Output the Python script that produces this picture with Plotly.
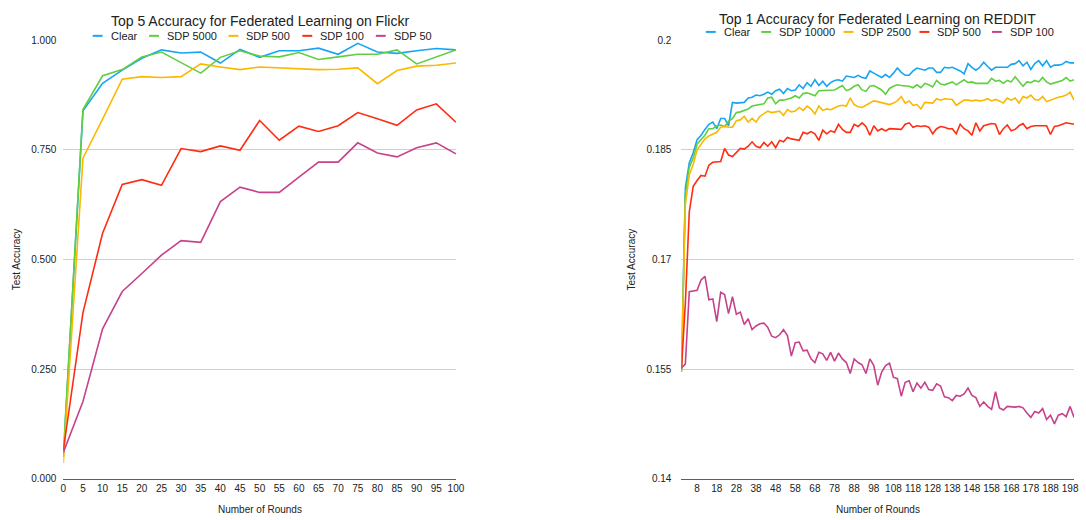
import plotly.graph_objects as go

# ---------------- Flickr (Top 5 accuracy) ----------------
flickr_rounds = [0, 5, 10, 15, 20, 25, 30, 35, 40, 45, 50, 55, 60, 65, 70, 75, 80, 85, 90, 95, 100]
flickr_clear = [0.050, 0.839, 0.902, 0.932, 0.959, 0.978, 0.971, 0.973, 0.948, 0.979, 0.961,
                0.976, 0.976, 0.982, 0.968, 0.993, 0.973, 0.970, 0.976, 0.981, 0.978]
flickr_sdp5000 = [0.055, 0.842, 0.919, 0.933, 0.962, 0.973, 0.949, 0.925, 0.961, 0.976, 0.964,
                  0.962, 0.972, 0.956, 0.962, 0.968, 0.968, 0.978, 0.946, 0.962, 0.978]
flickr_sdp500 = [0.036, 0.731, 0.820, 0.911, 0.917, 0.915, 0.917, 0.946, 0.939, 0.933, 0.939,
                 0.937, 0.934, 0.933, 0.934, 0.937, 0.901, 0.931, 0.941, 0.943, 0.948]
flickr_sdp100 = [0.065, 0.379, 0.560, 0.671, 0.682, 0.669, 0.753, 0.746, 0.759, 0.749, 0.817,
                 0.772, 0.804, 0.792, 0.805, 0.835, 0.821, 0.806, 0.841, 0.855, 0.813]
flickr_sdp50 = [0.060, 0.176, 0.342, 0.427, 0.468, 0.510, 0.543, 0.539, 0.632, 0.665, 0.653,
                0.653, 0.688, 0.722, 0.722, 0.766, 0.743, 0.734, 0.755, 0.766, 0.741]
flickr_ticks = [0.0, 0.25, 0.5, 0.75, 1.0]

# ---------------- REDDIT (Top 1 accuracy) ----------------
reddit_rounds = list(range(0, 201, 2))
reddit_clear = [
    0.1546, 0.1798, 0.1832, 0.1846, 0.1864, 0.1870, 0.1878, 0.1885, 0.1888, 0.1879,
    0.1893, 0.1893, 0.1883, 0.1915, 0.1914, 0.1914, 0.1915, 0.1921, 0.1922, 0.1925,
    0.1924, 0.1926, 0.1929, 0.1926, 0.1931, 0.1933, 0.1927, 0.1934, 0.1931, 0.1932,
    0.1939, 0.1934, 0.1942, 0.1937, 0.1946, 0.1938, 0.1944, 0.1937, 0.1942, 0.1945,
    0.1946, 0.1944, 0.1951, 0.1950, 0.1949, 0.1952, 0.1949, 0.1948, 0.1958, 0.1955,
    0.1952, 0.1949, 0.1953, 0.1949, 0.1955, 0.1962, 0.1956, 0.1952, 0.1952, 0.1958,
    0.1962, 0.1961, 0.1959, 0.1962, 0.1962, 0.1956, 0.1956, 0.1963, 0.1962, 0.1963,
    0.1961, 0.1958, 0.1954, 0.1968, 0.1963, 0.1959, 0.1963, 0.1970, 0.1964, 0.1959,
    0.1963, 0.1963, 0.1964, 0.1963, 0.1967, 0.1968, 0.1972, 0.1965, 0.1970, 0.1960,
    0.1968, 0.1972, 0.1965, 0.1972, 0.1963, 0.1966, 0.1966, 0.1967, 0.1971, 0.1969,
    0.1969]
reddit_sdp10000 = [
    0.1548, 0.1789, 0.1826, 0.1839, 0.1858, 0.1864, 0.1870, 0.1879, 0.1879, 0.1883,
    0.1884, 0.1882, 0.1889, 0.1893, 0.1901, 0.1902, 0.1904, 0.1906, 0.1910, 0.1911,
    0.1912, 0.1913, 0.1921, 0.1922, 0.1913, 0.1918, 0.1918, 0.1919, 0.1921, 0.1924,
    0.1921, 0.1927, 0.1928, 0.1926, 0.1924, 0.1931, 0.1931, 0.1931, 0.1931, 0.1932,
    0.1935, 0.1938, 0.1931, 0.1933, 0.1937, 0.1939, 0.1932, 0.1930, 0.1937, 0.1938,
    0.1935, 0.1932, 0.1926, 0.1934, 0.1937, 0.1939, 0.1938, 0.1938, 0.1937, 0.1935,
    0.1939, 0.1935, 0.1941, 0.1939, 0.1936, 0.1945, 0.1940, 0.1939, 0.1941, 0.1943,
    0.1939, 0.1943, 0.1946, 0.1942, 0.1943, 0.1941, 0.1941, 0.1941, 0.1941, 0.1948,
    0.1944, 0.1945, 0.1941, 0.1945, 0.1943, 0.1950, 0.1943, 0.1937, 0.1943, 0.1942,
    0.1945, 0.1943, 0.1949, 0.1943, 0.1940, 0.1942, 0.1943, 0.1945, 0.1949, 0.1944,
    0.1946]
reddit_sdp2500 = [
    0.1546, 0.1775, 0.1816, 0.1830, 0.1850, 0.1858, 0.1865, 0.1869, 0.1872, 0.1874,
    0.1881, 0.1882, 0.1881, 0.1881, 0.1890, 0.1891, 0.1896, 0.1888, 0.1893, 0.1888,
    0.1896, 0.1899, 0.1903, 0.1901, 0.1902, 0.1903, 0.1897, 0.1905, 0.1902, 0.1903,
    0.1908, 0.1904, 0.1910, 0.1906, 0.1899, 0.1910, 0.1904, 0.1906, 0.1905, 0.1908,
    0.1910, 0.1911, 0.1910, 0.1921, 0.1912, 0.1909, 0.1908, 0.1911, 0.1914, 0.1917,
    0.1916, 0.1915, 0.1914, 0.1912, 0.1914, 0.1917, 0.1923, 0.1914, 0.1917, 0.1911,
    0.1912, 0.1906, 0.1915, 0.1914, 0.1914, 0.1920, 0.1918, 0.1920, 0.1919, 0.1919,
    0.1911, 0.1915, 0.1918, 0.1918, 0.1917, 0.1918, 0.1917, 0.1918, 0.1920, 0.1917,
    0.1919, 0.1917, 0.1914, 0.1921, 0.1918, 0.1921, 0.1914, 0.1923, 0.1921, 0.1925,
    0.1919, 0.1918, 0.1923, 0.1916, 0.1918, 0.1921, 0.1922, 0.1923, 0.1925, 0.1929,
    0.1918]
reddit_sdp500 = [
    0.1550, 0.1640, 0.1765, 0.1800, 0.1808, 0.1815, 0.1814, 0.1829, 0.1833, 0.1834,
    0.1834, 0.1852, 0.1843, 0.1841, 0.1846, 0.1852, 0.1851, 0.1855, 0.1861, 0.1855,
    0.1853, 0.1860, 0.1855, 0.1861, 0.1853, 0.1863, 0.1861, 0.1867, 0.1865, 0.1864,
    0.1863, 0.1874, 0.1872, 0.1875, 0.1872, 0.1863, 0.1877, 0.1872, 0.1876, 0.1874,
    0.1885, 0.1878, 0.1874, 0.1874, 0.1885, 0.1882, 0.1887, 0.1882, 0.1870, 0.1883,
    0.1876, 0.1879, 0.1876, 0.1879, 0.1879, 0.1878, 0.1878, 0.1885, 0.1887, 0.1881,
    0.1883, 0.1882, 0.1883, 0.1881, 0.1872, 0.1879, 0.1882, 0.1881, 0.1879, 0.1879,
    0.1872, 0.1885, 0.1879, 0.1876, 0.1870, 0.1887, 0.1876, 0.1883, 0.1885, 0.1886,
    0.1885, 0.1871, 0.1879, 0.1884, 0.1876, 0.1878, 0.1883, 0.1886, 0.1879, 0.1882,
    0.1883, 0.1883, 0.1883, 0.1883, 0.1871, 0.1882, 0.1883, 0.1885, 0.1887, 0.1886,
    0.1885]
reddit_sdp100 = [
    0.1552, 0.1557, 0.1656, 0.1657, 0.1658, 0.1672, 0.1677, 0.1645, 0.1646, 0.1615,
    0.1655, 0.1652, 0.1626, 0.1649, 0.1625, 0.1628, 0.1611, 0.1619, 0.1604, 0.1609,
    0.1612, 0.1613, 0.1607, 0.1595, 0.1593, 0.1597, 0.1604, 0.1596, 0.1568, 0.1586,
    0.1587, 0.1575, 0.1576, 0.1564, 0.1559, 0.1573, 0.1571, 0.1562, 0.1573, 0.1561,
    0.1572, 0.1564, 0.1559, 0.1544, 0.1564, 0.1559, 0.1556, 0.1544, 0.1564, 0.1555,
    0.1528, 0.1546, 0.1555, 0.1558, 0.1539, 0.1537, 0.1513, 0.1532, 0.1534, 0.1519,
    0.1531, 0.1524, 0.1532, 0.1522, 0.1521, 0.1530, 0.1527, 0.1512, 0.1511, 0.1507,
    0.1514, 0.1513, 0.1516, 0.1524, 0.1514, 0.1511, 0.1499, 0.1505, 0.1499, 0.1495,
    0.1519, 0.1497, 0.1494, 0.1499, 0.1498, 0.1498, 0.1499, 0.1497, 0.1490, 0.1484,
    0.1492, 0.1490, 0.1496, 0.1481, 0.1487, 0.1475, 0.1487, 0.1489, 0.1485, 0.1499,
    0.1484]
reddit_xticks = [8, 18, 28, 38, 48, 58, 68, 78, 88, 98, 108, 118, 128, 138, 148, 158, 168, 178, 188, 198]
reddit_yticks = [0.14, 0.155, 0.17, 0.185, 0.2]
reddit_yticktext = ["0.14", "0.155", "0.17", "0.185", "0.2"]

left_names = ["Clear", "SDP 5000", "SDP 500", "SDP 100", "SDP 50"]
right_names = ["Clear", "SDP 10000", "SDP 2500", "SDP 500", "SDP 100"]

palette = ["#18a4f4", "#60cf3f", "#fbb800", "#fe2c10", "#c6428a"]

W, H = 1086, 520
FONT = "Liberation Sans, Arial, Helvetica, sans-serif"
TXT = "#222222"

def px(x):
    return x / W

def py(y):
    return (H - y) / H

fig = go.Figure()

for name, vals, c in zip(left_names,
                         [flickr_clear, flickr_sdp5000, flickr_sdp500, flickr_sdp100, flickr_sdp50],
                         palette):
    fig.add_trace(go.Scatter(x=flickr_rounds, y=vals, name=name, mode="lines",
                             line=dict(color=c, width=1.6), showlegend=False,
                             xaxis="x", yaxis="y"))

for name, vals, c in zip(right_names,
                         [reddit_clear, reddit_sdp10000, reddit_sdp2500, reddit_sdp500, reddit_sdp100],
                         palette):
    fig.add_trace(go.Scatter(x=reddit_rounds, y=vals, name=name, mode="lines",
                             line=dict(color=c, width=1.6), showlegend=False,
                             xaxis="x2", yaxis="y2"))

ydom = [py(484), py(36)]
lx = [px(61), px(458)]
rx = [px(686), px(1083)]

tickfont = dict(size=10, color=TXT, family=FONT)

fig.update_layout(
    width=W, height=H,
    margin=dict(l=0, r=0, t=0, b=0),
    paper_bgcolor="white", plot_bgcolor="white",
    font=dict(family=FONT, color=TXT),
    showlegend=False,
    xaxis=dict(domain=lx, range=[0, 100], tickvals=flickr_rounds, showgrid=False,
               zeroline=False, ticks="", showline=True, linecolor="#5e5e5e", linewidth=1.6,
               tickfont=tickfont, anchor="y"),
    yaxis=dict(domain=ydom, range=[0, 1], tickvals=flickr_ticks, tickformat=".3f",
               showgrid=True, gridcolor="#d0d0d0", gridwidth=1, zeroline=False,
               showline=False, ticks="", ticklabelstandoff=6, tickfont=tickfont, anchor="x"),
    xaxis2=dict(domain=rx, range=[0, 200], tickvals=reddit_xticks, showgrid=False,
                zeroline=False, ticks="", showline=True, linecolor="#5e5e5e", linewidth=1.6,
                tickfont=tickfont, anchor="y2"),
    yaxis2=dict(domain=ydom, range=[0.14, 0.2], tickvals=reddit_yticks,
                ticktext=reddit_yticktext, showgrid=True, gridcolor="#d0d0d0", gridwidth=1,
                zeroline=False, showline=False, ticks="", ticklabelstandoff=9,
                tickfont=tickfont, anchor="x2"),
)

annotations = [
    dict(text="Top 5 Accuracy for Federated Learning on Flickr", x=px(260), y=py(16.5),
         font=dict(size=14, color=TXT)),
    dict(text="Top 1 Accuracy for Federated Learning on REDDIT", x=px(884.5), y=py(14.5),
         font=dict(size=14, color=TXT)),
    dict(text="Number of Rounds", x=px(259.5), y=py(515), font=dict(size=10, color=TXT)),
    dict(text="Number of Rounds", x=px(884.5), y=py(515), font=dict(size=10, color=TXT)),
    dict(text="Test Accuracy", x=px(14), y=py(260), textangle=-90, font=dict(size=10, color=TXT)),
    dict(text="Test Accuracy", x=px(636), y=py(260), textangle=-90, font=dict(size=10, color=TXT)),
]
for a in annotations:
    a.update(xref="paper", yref="paper", showarrow=False, xanchor="center", yanchor="middle")

shapes = []
# custom legends: short coloured dash + label, positioned as in the reference
legend_specs = [
    (left_names, [90.7, 147.7, 228.0, 302.7, 377.0], 31.5),
    (right_names, [710.7, 766.7, 850.0, 926.7, 1000.0], 27.5),
]
for names, dash_x, ly in legend_specs:
    for name, dx, c in zip(names, dash_x, palette):
        shapes.append(dict(type="line", xref="paper", yref="paper",
                           x0=px(dx), x1=px(dx + 10), y0=py(ly), y1=py(ly),
                           line=dict(color=c, width=2)))
        annotations.append(dict(text=name, x=px(dx + 16), y=py(ly), xref="paper", yref="paper",
                                showarrow=False, xanchor="left", yanchor="middle",
                                font=dict(size=11, color=TXT)))

fig.update_layout(annotations=annotations, shapes=shapes)

# remove the default page margin so the figure sits at the window's top-left corner
fig.write_html("out.html",
               config={"displayModeBar": False, "staticPlot": True},
               post_script="document.body.style.margin='0';document.body.style.overflow='hidden';")
